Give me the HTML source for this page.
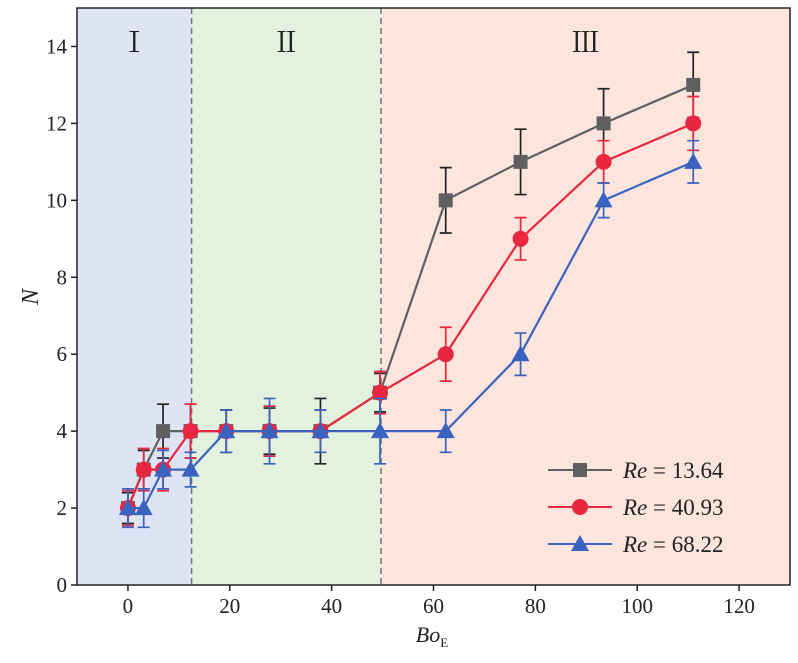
<!DOCTYPE html>
<html><head><meta charset="utf-8"><style>
body{margin:0;background:#fff;}
svg text{font-family:"Liberation Serif",serif;}
</style></head><body>
<svg id="chart" width="798" height="658" xmlns="http://www.w3.org/2000/svg"></svg>
<script>
const xVals=[0,3.1,6.9,12.3,19.3,27.8,37.8,49.5,62.4,77.1,93.4,111];
const seriesNames=["Re = 13.64","Re = 40.93","Re = 68.22"];
const yA=[2,3,4,4,4,4,4,5,10,11,12,13];
const yB=[2,3,3,4,4,4,4,5,6,9,11,12];
const yC=[2,2,3,3,4,4,4,4,4,6,10,11];
const eA=[0.4,0.5,0.7,0.7,0.55,0.6,0.85,0.5,0.85,0.85,0.9,0.85];
const eB=[0.45,0.55,0.55,0.7,0.55,0.65,0.55,0.55,0.7,0.55,0.55,0.7];
const eC=[0.5,0.5,0.5,0.45,0.55,0.85,0.55,0.85,0.55,0.55,0.45,0.55];
const xTicks=[0,20,40,60,80,100,120];
const yTicks=[0,2,4,6,8,10,12,14];
const regions=[[-10,12.5,"#dfe4f5","Ⅰ"],[12.5,49.7,"#e2f2df","Ⅱ"],[49.7,130,"#fce5dc","Ⅲ"]];

const L=77,R=790,T=8,B=585,xmin=-10,xmax=130,ymin=0,ymax=15;
const X=v=>L+(v-xmin)/(xmax-xmin)*(R-L);
const Y=v=>B-(v-ymin)/(ymax-ymin)*(B-T);
const svg=document.getElementById('chart');
const NS="http://www.w3.org/2000/svg";
function mk(tag,attrs,parent){const e=document.createElementNS(NS,tag);for(const k in attrs)e.setAttribute(k,attrs[k]);(parent||svg).appendChild(e);return e;}

regions.forEach((r,i)=>{
  const e=mk('rect',{x:X(r[0]),y:T,width:X(r[1])-X(r[0]),height:B-T,fill:r[2]});
  
  
  const t=mk('text',{x:(X(r[0])+X(r[1]))/2,y:52,'font-size':28,'text-anchor':'middle',fill:'#222',style:'font-family:"Noto Serif CJK SC",serif'});
  t.textContent=r[3];
  
  
  if(i>0){const d=mk('line',{x1:X(r[0]),x2:X(r[0]),y1:T,y2:B,stroke:'#777','stroke-width':1.5,'stroke-dasharray':'6,4'});
  
  }
});

const colors=["#5f5f5f","#e8263f","#3a63c0"];
const errC=["#222","#e8263f","#3a63c0"];
const ys=[yA,yB,yC],es=[eA,eB,eC],shapes=['square','circle','triangle'];
function marker(g,shape,cx,cy,c,s){
  if(shape==='square')return mk('rect',{x:cx-s,y:cy-s,width:2*s,height:2*s,fill:c},g);
  if(shape==='circle')return mk('circle',{cx:cx,cy:cy,r:s+1,fill:c},g);
  return mk('polygon',{points:`${cx},${cy-s-2} ${cx-s-2},${cy+s} ${cx+s+2},${cy+s}`,fill:c},g);
}
ys.forEach((yv,si)=>{
  const g=mk('g',{});
  
  
  yv.forEach((v,i)=>{
    const x=X(xVals[i]),y1=Y(v+es[si][i]),y2=Y(v-es[si][i]);
    const eb=mk('path',{d:`M${x},${y1}V${y2}M${x-6},${y1}H${x+6}M${x-6},${y2}H${x+6}`,stroke:errC[si],'stroke-width':1.7,fill:'none'},g);
    
    
  });
  const ln=mk('polyline',{points:yv.map((v,i)=>X(xVals[i])+','+Y(v)).join(' '),stroke:colors[si],'stroke-width':2.2,fill:'none'},g);
  
  
  yv.forEach((v,i)=>{
    const m=marker(g,shapes[si],X(xVals[i]),Y(v),colors[si],7);
    
    
  });
});

const fr=mk('rect',{x:L,y:T,width:R-L,height:B-T,fill:'none',stroke:'#222','stroke-width':1.5});


xTicks.forEach(v=>{
  mk('line',{x1:X(v),x2:X(v),y1:B,y2:B+6,stroke:'#222','stroke-width':1.5});
  const t=mk('text',{x:X(v),y:B+28,'font-size':21,'text-anchor':'middle',fill:'#222'});t.textContent=v;
  
  
});
yTicks.forEach(v=>{
  mk('line',{x1:L-6,x2:L,y1:Y(v),y2:Y(v),stroke:'#222','stroke-width':1.5});
  const t=mk('text',{x:L-10,y:Y(v)+7,'font-size':21,'text-anchor':'end',fill:'#222'});t.textContent=v;
  
  
});
const xt=mk('text',{x:432,y:642,'font-size':22,'text-anchor':'middle','font-style':'italic',fill:'#222'});
xt.innerHTML='Bo<tspan font-size="13" font-style="normal" dy="5">E</tspan>';


const yt=mk('text',{x:0,y:0,'font-size':24,'text-anchor':'middle','font-style':'italic',fill:'#222',transform:'translate(38,297) rotate(-90)'});
yt.textContent='N';



seriesNames.forEach((n,si)=>{
  const y=470+si*37;
  const g=mk('g',{});
  
  
  mk('line',{x1:548,x2:612,y1:y,y2:y,stroke:colors[si],'stroke-width':2},g);
  marker(g,shapes[si],580,y,colors[si],7);
  const t=mk('text',{x:623,y:y+8,'font-size':23,fill:'#222'},g);
  const p=n.split(' = ');
  t.innerHTML='<tspan font-style="italic">'+p[0]+'</tspan> = '+p[1];
});
</script>
</body></html>
